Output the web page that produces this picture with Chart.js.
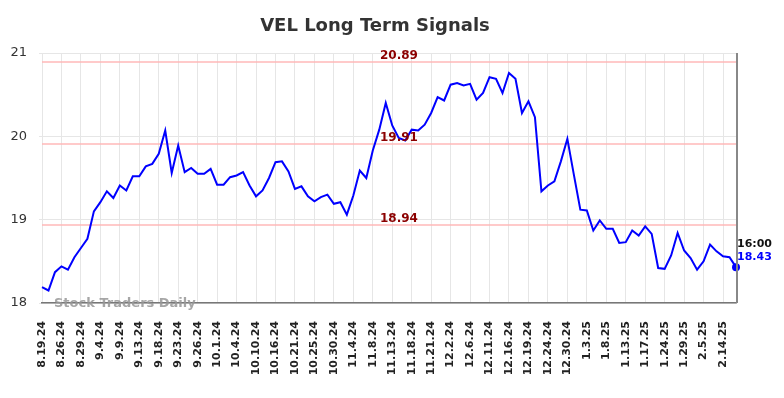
<!DOCTYPE html>
<html>
<head>
<meta charset="utf-8">
<script src="https://cdn.jsdelivr.net/npm/chart.js@4.4.1/dist/chart.umd.min.js"></script>
<style>
  html, body { margin: 0; padding: 0; background: #fff; }
  #wrap { width: 784px; height: 398px; position: relative; }
</style>
</head>
<body>
<div id="wrap"><canvas id="chart"></canvas></div>
<script>
// VEL long term signals — price line + signal levels

const tickLabels = [
  '8.19.24', '8.26.24', '8.29.24', '9.4.24', '9.9.24', '9.13.24', '9.18.24', '9.23.24', '9.26.24',
  '10.1.24', '10.4.24', '10.10.24', '10.16.24', '10.21.24', '10.25.24', '10.30.24', '11.4.24',
  '11.8.24', '11.13.24', '11.18.24', '11.21.24', '12.2.24', '12.6.24', '12.11.24', '12.16.24',
  '12.19.24', '12.24.24', '12.30.24', '1.3.25', '1.8.25', '1.13.25', '1.17.25', '1.24.25',
  '1.29.25', '2.5.25', '2.14.25'
];

const prices = [
  18.19, 18.15, 18.37, 18.44, 18.40, 18.55, 18.66, 18.77, 19.10, 19.21,
  19.34, 19.26, 19.41, 19.35, 19.52, 19.52, 19.64, 19.67, 19.79, 20.07,
  19.56, 19.89, 19.57, 19.62, 19.55, 19.55, 19.61, 19.42, 19.42, 19.51,
  19.53, 19.57, 19.41, 19.28, 19.35, 19.50, 19.69, 19.70, 19.58, 19.37,
  19.40, 19.28, 19.22, 19.27, 19.30, 19.19, 19.21, 19.06, 19.29, 19.59,
  19.50, 19.83, 20.08, 20.40, 20.13, 19.98, 19.95, 20.08, 20.07, 20.14,
  20.28, 20.47, 20.43, 20.62, 20.64, 20.61, 20.63, 20.44, 20.52, 20.71,
  20.69, 20.52, 20.76, 20.69, 20.28, 20.42, 20.23, 19.34, 19.41, 19.46,
  19.70, 19.97, 19.54, 19.12, 19.11, 18.87, 18.99, 18.89, 18.89, 18.72,
  18.73, 18.87, 18.81, 18.92, 18.83, 18.42, 18.41, 18.57, 18.84, 18.63,
  18.54, 18.40, 18.50, 18.70, 18.62, 18.56, 18.55, 18.43
];

const signalLevels = [20.89, 19.91, 18.94];
const yTicks = [18, 19, 20, 21];
const lastTime = '16:00';

const LABEL_EVERY = 3;
const labels = prices.map((_, i) =>
  i % LABEL_EVERY === 0 ? (tickLabels[i / LABEL_EVERY] || '') : '');
const lastIdx = prices.length - 1;

/* ── Overlay: title, signal levels, watermark, last value ── */
const overlay = {
  id: 'overlay',
  beforeDatasetsDraw(chart) {
    const { ctx, chartArea: a, scales: { y } } = chart;
    ctx.save();
    ctx.strokeStyle = 'rgba(255,180,180,0.7)';
    ctx.lineWidth = 2;
    signalLevels.forEach(v => {
      const py = Math.round(y.getPixelForValue(v));
      ctx.beginPath();
      ctx.moveTo(a.left, py);
      ctx.lineTo(a.right, py);
      ctx.stroke();
    });
    ctx.restore();
  },
  afterDraw(chart) {
    const { ctx, chartArea: a, scales: { x, y } } = chart;
    ctx.save();

    // title
    ctx.fillStyle = '#333';
    ctx.font = 'bold 18px "DejaVu Sans"';
    ctx.textAlign = 'center';
    ctx.textBaseline = 'middle';
    ctx.fillText('VEL Long Term Signals', 375, 26);

    // signal level labels
    ctx.font = 'bold 12px "DejaVu Sans"';
    ctx.fillStyle = '#8b0000';
    ctx.textAlign = 'left';
    ctx.textBaseline = 'alphabetic';
    signalLevels.forEach(v => {
      const py = y.getPixelForValue(v);
      ctx.fillText(v.toFixed(2), 380, py - 3);
    });

    // right border
    ctx.strokeStyle = '#888';
    ctx.lineWidth = 2;
    ctx.beginPath();
    ctx.moveTo(a.right + 1, a.top);
    ctx.lineTo(a.right + 1, a.bottom);
    ctx.stroke();

    // watermark
    ctx.font = 'bold 13px "DejaVu Sans"';
    ctx.fillStyle = 'rgba(150,150,150,0.85)';
    ctx.fillText('Stock Traders Daily', 54, 307);

    // last value
    const lx = x.getPixelForValue(lastIdx);
    const ly = y.getPixelForValue(prices[lastIdx]);
    ctx.font = 'bold 11px "DejaVu Sans"';
    ctx.fillStyle = '#111';
    ctx.fillText(lastTime, lx + 1, ly - 20);
    ctx.fillStyle = '#0000ff';
    ctx.fillText(prices[lastIdx].toFixed(2), lx + 1, ly - 7);

    ctx.restore();
  }
};

new Chart(document.getElementById('chart'), {
  type: 'line',
  data: {
    labels: labels,
    datasets: [{
      data: prices,
      borderColor: '#0000ff',
      borderWidth: 2,
      tension: 0,
      pointRadius: ctx => ctx.dataIndex === lastIdx ? 4 : 0,
      pointBackgroundColor: '#0000ff',
      pointBorderWidth: 0,
    }]
  },
  options: {
    responsive: true, maintainAspectRatio: false,
    animation: false,
    layout: { padding: { top: 53, right: 48, left: 0, bottom: 0 } },
    plugins: {
      legend: { display: false },
      title: { display: false },
      tooltip: { enabled: false }
    },
    scales: {
      x: {
        offset: false,
        afterFit: s => { s.height = 95; },
        grid: {
          color: c => (c.index % LABEL_EVERY === 0 ? '#e6e6e6' : 'rgba(0,0,0,0)'),
          lineWidth: 1,
          drawTicks: false
        },
        border: { color: '#777', width: 1.5 },
        ticks: {
          autoSkip: false,
          maxRotation: 90, minRotation: 90,
          padding: 18,
          color: '#222',
          font: { family: 'DejaVu Sans', size: 11, weight: 'bold' }
        }
      },
      y: {
        min: 18, max: 21,
        afterFit: s => { s.width = 42; },
        afterBuildTicks: s => { s.ticks = yTicks.map(v => ({ value: v })); },
        grid: { color: '#e6e6e6', tickLength: 3 },
        border: { display: false },
        ticks: {
          padding: 12,
          color: '#333',
          font: { family: 'DejaVu Sans', size: 13 }
        }
      }
    }
  },
  plugins: [overlay]
});
</script>
</body>
</html>
